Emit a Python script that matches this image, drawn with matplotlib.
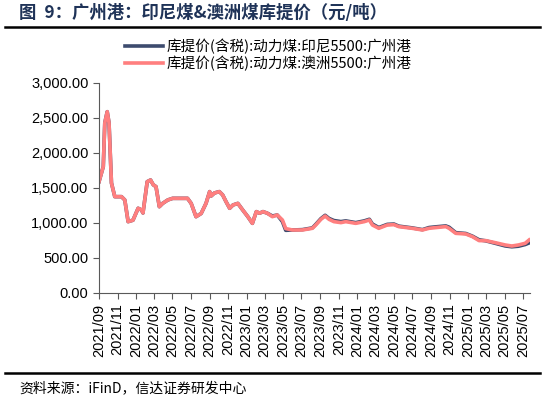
import matplotlib
matplotlib.use("Agg")
import matplotlib.pyplot as plt
import matplotlib.dates as mdates
import matplotlib.ticker as mticker
import numpy as np
import pandas as pd

plt.rcParams['font.family'] = ['Liberation Sans', 'Noto Sans CJK SC', 'DejaVu Sans']

# data (元/吨)
dates = ["2021-09-01", "2021-09-15", "2021-09-20", "2021-09-28", "2021-10-04",
         "2021-10-12", "2021-10-23", "2021-11-14", "2021-11-25", "2021-12-06",
         "2021-12-22", "2022-01-08", "2022-01-19", "2022-01-24", "2022-02-07",
         "2022-02-18", "2022-02-27", "2022-03-08", "2022-03-19", "2022-03-30",
         "2022-04-16", "2022-05-02", "2022-06-20", "2022-07-02", "2022-07-18",
         "2022-08-04", "2022-08-20", "2022-09-01", "2022-09-06", "2022-09-17",
         "2022-10-03", "2022-10-14", "2022-10-25", "2022-11-06", "2022-11-17",
         "2022-12-03", "2022-12-19", "2023-01-05", "2023-01-20", "2023-02-02",
         "2023-02-13", "2023-02-24", "2023-03-10", "2023-03-27", "2023-04-12",
         "2023-04-29", "2023-05-10", "2023-06-01", "2023-07-04", "2023-08-06",
         "2023-08-17", "2023-09-03", "2023-09-17", "2023-09-30", "2023-10-16",
         "2023-11-08", "2023-11-24", "2023-12-27", "2024-01-24", "2024-02-10",
         "2024-02-20", "2024-03-12", "2024-04-09", "2024-05-01", "2024-05-17",
         "2024-06-30", "2024-08-03", "2024-08-25", "2024-09-16", "2024-10-19",
         "2024-10-30", "2024-11-21", "2024-12-24", "2025-01-15", "2025-02-06",
         "2025-02-28", "2025-03-31", "2025-05-03", "2025-05-25", "2025-06-16",
         "2025-07-08", "2025-07-21"]

australia = [1590, 1805, 2429, 2590, 2429,
             1571, 1376, 1376, 1329, 1019,
             1040, 1210, 1186, 1143, 1590,
             1614, 1545, 1519, 1233, 1280,
             1329, 1352, 1352, 1280, 1090,
             1136, 1280, 1448, 1386, 1429,
             1448, 1400, 1305, 1210, 1257,
             1280, 1186, 1090, 995, 1162,
             1140, 1162, 1140, 1090, 1114,
             1043, 920, 900, 900, 924,
             971, 1052, 1100, 1052, 1019,
             1005, 1019, 995, 1019, 1043,
             971, 924, 971, 976, 948,
             924, 900, 924, 934, 948,
             924, 852, 843, 805, 748,
             748, 719, 686, 671, 686,
             710, 757]

indonesia = [1590, 1805, 2429, 2590, 2429,
             1571, 1376, 1376, 1329, 1019,
             1040, 1210, 1186, 1143, 1590,
             1614, 1545, 1519, 1233, 1280,
             1329, 1352, 1352, 1280, 1090,
             1136, 1280, 1448, 1386, 1429,
             1448, 1400, 1305, 1210, 1257,
             1280, 1186, 1090, 995, 1162,
             1140, 1162, 1140, 1100, 1114,
             1020, 895, 900, 905, 930,
             980, 1062, 1110, 1065, 1035,
             1020, 1030, 1005, 1030, 1053,
             985, 935, 980, 985, 955,
             930, 905, 935, 945, 958,
             940, 862, 850, 812, 760,
             745, 710, 672, 660, 668,
             692, 715]

label_id = "库提价(含税):动力煤:印尼5500:广州港"
label_au = "库提价(含税):动力煤:澳洲5500:广州港"

x = pd.to_datetime(dates)

fig = plt.figure(figsize=(5.45, 4.04), dpi=100)
ax = fig.add_axes([0.1817, 0.2748, 0.7908, 0.5198])

ax.plot(x, indonesia, color='#3d4b6e', lw=2.6, label=label_id)
ax.plot(x, australia, color='#ff7f7f', lw=2.6, label=label_au)

ax.set_ylim(0, 3000)
ax.set_xlim(pd.Timestamp("2021-09-01"), pd.Timestamp("2025-07-24"))
ax.yaxis.set_major_locator(mticker.MultipleLocator(500))
ax.yaxis.set_major_formatter(mticker.FuncFormatter(lambda v, p: "{:,.2f}".format(v)))
ax.xaxis.set_major_locator(mdates.MonthLocator(bymonth=[1, 3, 5, 7, 9, 11]))
ax.xaxis.set_major_formatter(mdates.DateFormatter("%Y/%m"))
plt.setp(ax.get_xticklabels(), rotation=90)

for s in ['top', 'right']:
    ax.spines[s].set_visible(False)
for s in ['left', 'bottom']:
    ax.spines[s].set_color('#595959')
ax.tick_params(axis='both', labelsize=10.5, length=4, color='#595959', labelcolor='black')

handles, labels = ax.get_legend_handles_labels()
fig.legend(handles, labels, loc='upper center', bbox_to_anchor=(0.492, 0.905),
           frameon=False, handlelength=2.6, handletextpad=0.2,
           labelspacing=0.12, borderpad=0.0, borderaxespad=0.0,
           prop={'family': ['Noto Sans CJK SC', 'DejaVu Sans'], 'size': 10.5})

# header / footer
fig.text(0.035, 0.945, "图  9：广州港：印尼煤&澳洲煤库提价（元/吨）", fontsize=12.5,
         fontweight='bold', color='#1f3358',
         family=['Noto Sans CJK SC', 'DejaVu Sans'], va='bottom')
fig.add_artist(plt.Line2D([0.01, 0.99], [0.933, 0.933], color='black', lw=1.8,
                          transform=fig.transFigure))
fig.add_artist(plt.Line2D([0.01, 0.99], [0.077, 0.077], color='black', lw=1.8,
                          transform=fig.transFigure))
fig.text(0.035, 0.04, "资料来源：iFinD，信达证券研发中心", fontsize=10,
         style='italic', color='black',
         family=['Noto Sans CJK SC', 'DejaVu Sans'], va='center')

fig.savefig("out.png", dpi=100)
